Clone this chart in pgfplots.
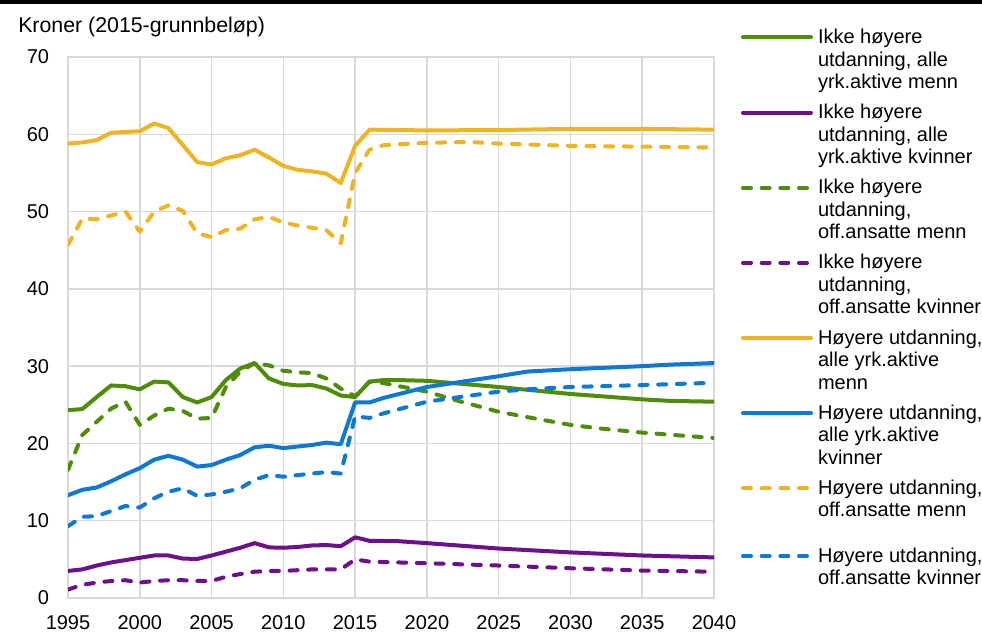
\documentclass[border=0pt]{standalone}
\usepackage{pgfplots}
\pgfplotsset{compat=1.18}
\usepackage{fontspec}
\setmainfont{Liberation Sans}
\definecolor{cgreen}{RGB}{78,140,10}
\definecolor{cpurple}{RGB}{108,16,140}
\definecolor{cyellow}{RGB}{240,180,35}
\definecolor{cblue}{RGB}{14,120,214}
\definecolor{cgrid}{RGB}{217,217,217}
\newcommand{\LE}[3]{\parbox[t]{180pt}{\strut #1\\\strut #2\\\strut #3}}
\newcommand{\LEt}[2]{\parbox[t]{180pt}{\strut #1\\\strut #2\\[-5.25pt]\strut}}
\begin{document}
\begin{tikzpicture}
\path[use as bounding box] (0pt,0pt) rectangle (736.5pt,476.25pt);
\begin{axis}[
  at={(51pt,27.75pt)}, anchor=south west, scale only axis,
  width=484.5pt, height=405.75pt,
  xmin=1995, xmax=2040, ymin=0, ymax=70,
  xtick={1995,2000,...,2040}, ytick={0,10,...,70},
  grid=major, major grid style={cgrid, line width=1.1pt},
  axis line style={cgrid, line width=1.1pt},
  major tick length=0pt,
  tick label style={font=\fontsize{15}{18}\selectfont},
  /pgf/number format/assume math mode=true,
  /pgf/number format/1000 sep={},
  yticklabel style={inner sep=0pt, xshift=-14pt},
  xticklabel style={inner sep=0pt, yshift=-13pt},
  every axis plot/.append style={line width=3pt, line join=round, line cap=round},
  legend image code/.code={\draw[#1] (0pt,-7.3pt) -- (51pt,-7.3pt); \path (0pt,5.3pt);},
  legend style={at={(1.0418,1.0709)}, anchor=north west, draw=none, fill=none,
    inner sep=0pt, outer sep=0pt, row sep=-1.15pt, column sep=3.75pt,
    cells={anchor=north west},
    font=\fontsize{15}{16.9}\selectfont, nodes={inner sep=0pt, text depth=, text height=}},
]
\addplot[cgreen] coordinates {(1995,24.3)(1996,24.45)(1997,26.0)(1998,27.5)(1999,27.4)(2000,27.0)(2001,28.0)(2002,27.9)(2003,26.0)(2004,25.3)(2005,26.0)(2006,28.2)(2007,29.7)(2008,30.4)(2009,28.4)(2010,27.7)(2011,27.5)(2012,27.55)(2013,27.1)(2014,26.2)(2015,26.0)(2016,28.0)(2017,28.2)(2018,28.2)(2020,28.1)(2025,27.3)(2030,26.4)(2035,25.7)(2037,25.5)(2040,25.4)};
\addlegendentry{\LE{Ikke høyere}{utdanning, alle}{yrk.aktive menn}}
\addplot[cpurple] coordinates {(1995,3.5)(1996,3.7)(1997,4.2)(1998,4.6)(1999,4.9)(2000,5.2)(2001,5.5)(2002,5.5)(2003,5.1)(2004,5.05)(2005,5.5)(2006,6.0)(2007,6.5)(2008,7.1)(2009,6.55)(2010,6.5)(2011,6.6)(2012,6.8)(2013,6.85)(2014,6.7)(2015,7.85)(2016,7.4)(2018,7.35)(2020,7.1)(2025,6.4)(2030,5.9)(2035,5.5)(2040,5.25)};
\addlegendentry{\LE{Ikke høyere}{utdanning, alle}{yrk.aktive kvinner}}
\addplot[cgreen, dash pattern=on 6pt off 8pt] coordinates {(1995,16.6)(1996,21.1)(1997,22.8)(1998,24.5)(1999,25.4)(2000,22.4)(2001,23.6)(2002,24.5)(2003,24.2)(2004,23.2)(2005,23.3)(2006,27.3)(2007,29.3)(2008,30.4)(2009,30.1)(2010,29.4)(2011,29.2)(2012,29.1)(2013,28.4)(2014,27.1)(2015,26.1)(2016,28.0)(2017,27.8)(2020,26.7)(2022,25.6)(2025,24.1)(2027,23.4)(2030,22.4)(2032,21.95)(2035,21.4)(2040,20.7)};
\addlegendentry{\LE{Ikke høyere}{utdanning,}{off.ansatte menn}}
\addplot[cpurple, dash pattern=on 6pt off 8pt] coordinates {(1995,1.1)(1996,1.7)(1997,2.0)(1998,2.2)(1999,2.3)(2000,2.0)(2001,2.2)(2002,2.3)(2003,2.3)(2004,2.2)(2005,2.2)(2006,2.75)(2007,3.1)(2008,3.4)(2009,3.5)(2010,3.5)(2011,3.6)(2012,3.7)(2013,3.7)(2014,3.7)(2015,5.0)(2016,4.7)(2020,4.5)(2025,4.2)(2030,3.85)(2035,3.55)(2040,3.4)};
\addlegendentry{\LE{Ikke høyere}{utdanning,}{off.ansatte kvinner}}
\addplot[cyellow] coordinates {(1995,58.8)(1996,58.95)(1997,59.25)(1998,60.2)(1999,60.3)(2000,60.4)(2001,61.4)(2002,60.8)(2003,58.6)(2004,56.4)(2005,56.1)(2006,56.9)(2007,57.3)(2008,58.0)(2009,57.0)(2010,55.9)(2011,55.4)(2012,55.2)(2013,54.9)(2014,53.7)(2015,58.5)(2016,60.6)(2020,60.5)(2025,60.55)(2030,60.7)(2035,60.7)(2040,60.6)};
\addlegendentry{\LE{Høyere utdanning,}{alle yrk.aktive}{menn}}
\addplot[cblue] coordinates {(1995,13.3)(1996,14.0)(1997,14.3)(1998,15.1)(1999,16.0)(2000,16.8)(2001,17.9)(2002,18.4)(2003,17.9)(2004,17.0)(2005,17.2)(2006,17.9)(2007,18.5)(2008,19.5)(2009,19.7)(2010,19.4)(2011,19.6)(2012,19.8)(2013,20.1)(2014,19.9)(2015,25.3)(2016,25.3)(2017,25.9)(2020,27.3)(2025,28.7)(2027,29.3)(2030,29.6)(2035,30.0)(2037,30.2)(2040,30.4)};
\addlegendentry{\LE{Høyere utdanning,}{alle yrk.aktive}{kvinner}}
\addplot[cyellow, dash pattern=on 6pt off 8pt] coordinates {(1995,45.7)(1996,49.1)(1997,49.0)(1998,49.5)(1999,50.0)(2000,47.4)(2001,50.0)(2002,50.8)(2003,50.1)(2004,47.2)(2005,46.7)(2006,47.6)(2007,47.8)(2008,49.0)(2009,49.3)(2010,48.6)(2011,48.2)(2012,47.9)(2013,47.6)(2014,45.9)(2015,55.0)(2016,58.0)(2017,58.6)(2020,58.9)(2023,59.0)(2025,58.8)(2030,58.5)(2035,58.4)(2040,58.3)};
\addlegendentry{\LEt{Høyere utdanning,}{off.ansatte menn}}
\addplot[cblue, dash pattern=on 6pt off 8pt] coordinates {(1995,9.3)(1996,10.5)(1997,10.6)(1998,11.25)(1999,11.9)(2000,11.7)(2001,12.9)(2002,13.75)(2003,14.2)(2004,13.2)(2005,13.4)(2006,13.75)(2007,14.2)(2008,15.3)(2009,15.9)(2010,15.7)(2011,15.9)(2012,16.1)(2013,16.3)(2014,16.1)(2015,23.5)(2016,23.3)(2017,23.9)(2020,25.4)(2025,26.7)(2027,27.0)(2030,27.3)(2035,27.55)(2040,27.85)};
\addlegendentry{\LE{Høyere utdanning,}{off.ansatte kvinner}{}}
\end{axis}
\node[anchor=west, inner sep=0pt, font=\fontsize{16}{18}\selectfont] at (13.5pt,456pt) {Kroner (2015-grunnbeløp)};
\draw[line width=3pt] (0pt,474.75pt) -- (736.5pt,474.75pt);
\end{tikzpicture}
\end{document}
